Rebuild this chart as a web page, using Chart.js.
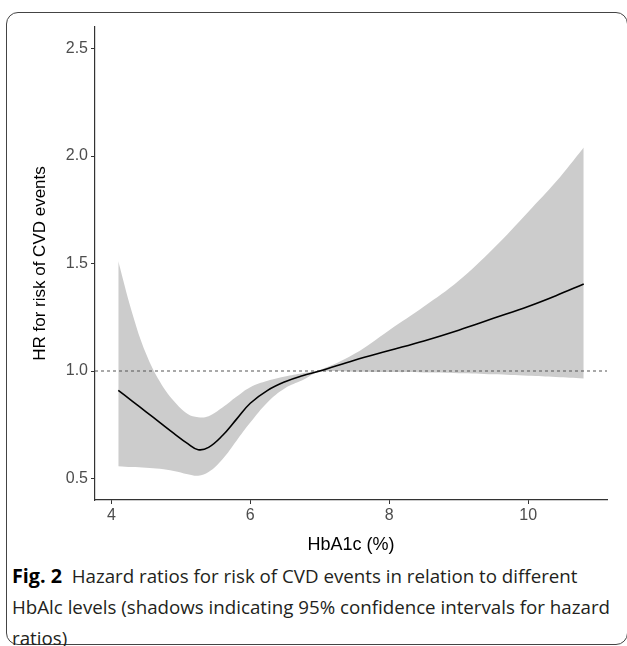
<!DOCTYPE html>
<html>
<head>
<meta charset="utf-8">
<script src="https://cdn.jsdelivr.net/npm/chart.js@4"></script>
<style>
  body { margin: 0; background: #fff; }
  #wrap { position: relative; width: 627px; height: 646px; overflow: hidden; }
  #frame { position: absolute; left: 6px; top: 12px; width: 622px; height: 633px;
           border: 1px solid #444; border-radius: 12px; box-sizing: border-box; }
  #chart { position: absolute; left: 0; top: 0; }
  #caption { position: absolute; left: 12px; top: 560px; font-family: "Open Sans", sans-serif;
             font-size: 19px; line-height: 31px; color: #231f20; white-space: nowrap;
             transform-origin: left top; }
  #caption b { color: #000; font-size: 20px; }
</style>
</head>
<body>
<div id="wrap">
  <div id="frame"></div>
  <canvas id="chart" width="627" height="560"></canvas>
  <div id="caption">
    <div id="cap1"><b>Fig. 2</b>&nbsp; Hazard ratios for risk of CVD events in relation to different</div>
    <div id="cap2">HbAlc levels (shadows indicating 95% confidence intervals for hazard</div>
    <div id="cap3">ratios)</div>
  </div>
</div>
<script>
const hba1c = [4.1, 4.3, 4.5, 4.7, 4.9, 5.1, 5.25, 5.4, 5.6, 5.8, 6.0, 6.25, 6.5, 6.75, 7.0, 7.5, 8.0, 8.5, 9.0, 9.5, 10.0, 10.4, 10.8];
const hr    = [0.91, 0.86, 0.81, 0.76, 0.71, 0.662, 0.634, 0.645, 0.70, 0.775, 0.85, 0.91, 0.95, 0.978, 1.0, 1.05, 1.095, 1.14, 1.19, 1.245, 1.30, 1.35, 1.405];
const upper = [1.51, 1.27, 1.08, 0.95, 0.86, 0.80, 0.785, 0.79, 0.83, 0.88, 0.925, 0.955, 0.975, 0.99, 1.005, 1.08, 1.19, 1.30, 1.42, 1.57, 1.74, 1.88, 2.04];
const lower = [0.557, 0.553, 0.55, 0.545, 0.535, 0.52, 0.513, 0.53, 0.59, 0.675, 0.76, 0.855, 0.92, 0.957, 0.995, 0.997, 0.995, 0.993, 0.99, 0.985, 0.978, 0.972, 0.965];
const xTicks = [4, 6, 8, 10];
const yTicks = [0.5, 1.0, 1.5, 2.0, 2.5];
const refHR = 1;
const xRange = [3.765, 11.135];
const yRange = [0.4, 2.6];

const pts = arr => hba1c.map((x, i) => ({ x: x, y: arr[i] }));
const axisFont = { family: "'Liberation Sans', Arial, sans-serif", size: 16 };

// lower "order" draws on top
const ctx = document.getElementById("chart").getContext("2d");
new Chart(ctx, {
  type: "scatter",
  data: {
    datasets: [
      { data: pts(upper), order: 3, showLine: true, borderWidth: 0, pointRadius: 0, fill: "+1",
        backgroundColor: "#cccccc", tension: 0.4 },
      { data: pts(lower), order: 2, showLine: true, borderWidth: 0, pointRadius: 0, fill: false,
        tension: 0.4 },
      { data: [{ x: xRange[0], y: refHR }, { x: xRange[1], y: refHR }], order: 1, showLine: true,
        borderColor: "#555", borderWidth: 1, borderDash: [3, 3], pointRadius: 0 },
      { data: pts(hr), order: 0, showLine: true, borderColor: "#000", borderWidth: 1.6, pointRadius: 0,
        tension: 0.4 }
    ]
  },
  options: {
    responsive: false,
    animation: false,
    layout: { padding: { top: 27, right: 20, left: 0, bottom: 0 } },
    plugins: { legend: { display: false }, tooltip: { enabled: false } },
    scales: {
      x: {
        type: "linear", min: xRange[0], max: xRange[1],
        afterBuildTicks: s => { s.ticks = xTicks.map(v => ({ value: v })); },
        afterFit: s => { s.height = 60; },
        grid: { drawOnChartArea: false, tickLength: 4, color: "#333" },
        border: { color: "#333", width: 1.2 },
        ticks: { color: "#4d4d4d", font: axisFont, padding: 2 },
        title: { display: true, text: "HbA1c (%)", color: "#000",
                 font: { family: "'Liberation Sans', Arial, sans-serif", size: 18 }, padding: { bottom: 4 } }
      },
      y: {
        type: "linear", min: yRange[0], max: yRange[1],
        afterBuildTicks: s => { s.ticks = yTicks.map(v => ({ value: v })); },
        afterFit: s => { s.width = 95; },
        grid: { drawOnChartArea: false, tickLength: 4, color: "#333" },
        border: { color: "#333", width: 1.2 },
        ticks: { color: "#4d4d4d", font: axisFont, padding: 3, callback: v => v.toFixed(1) },
        title: { display: true, text: "HR for risk of CVD events", color: "#000",
                 font: { family: "'Liberation Sans', Arial, sans-serif", size: 17 }, padding: { top: 30 } }
      }
    }
  }
});

// squeeze the caption so the second line spans the frame like in the print
const cap = document.getElementById("caption");
const w = document.getElementById("cap2").getBoundingClientRect().width;
cap.style.transform = "scaleX(" + (598 / w) + ")";
</script>
</body>
</html>
